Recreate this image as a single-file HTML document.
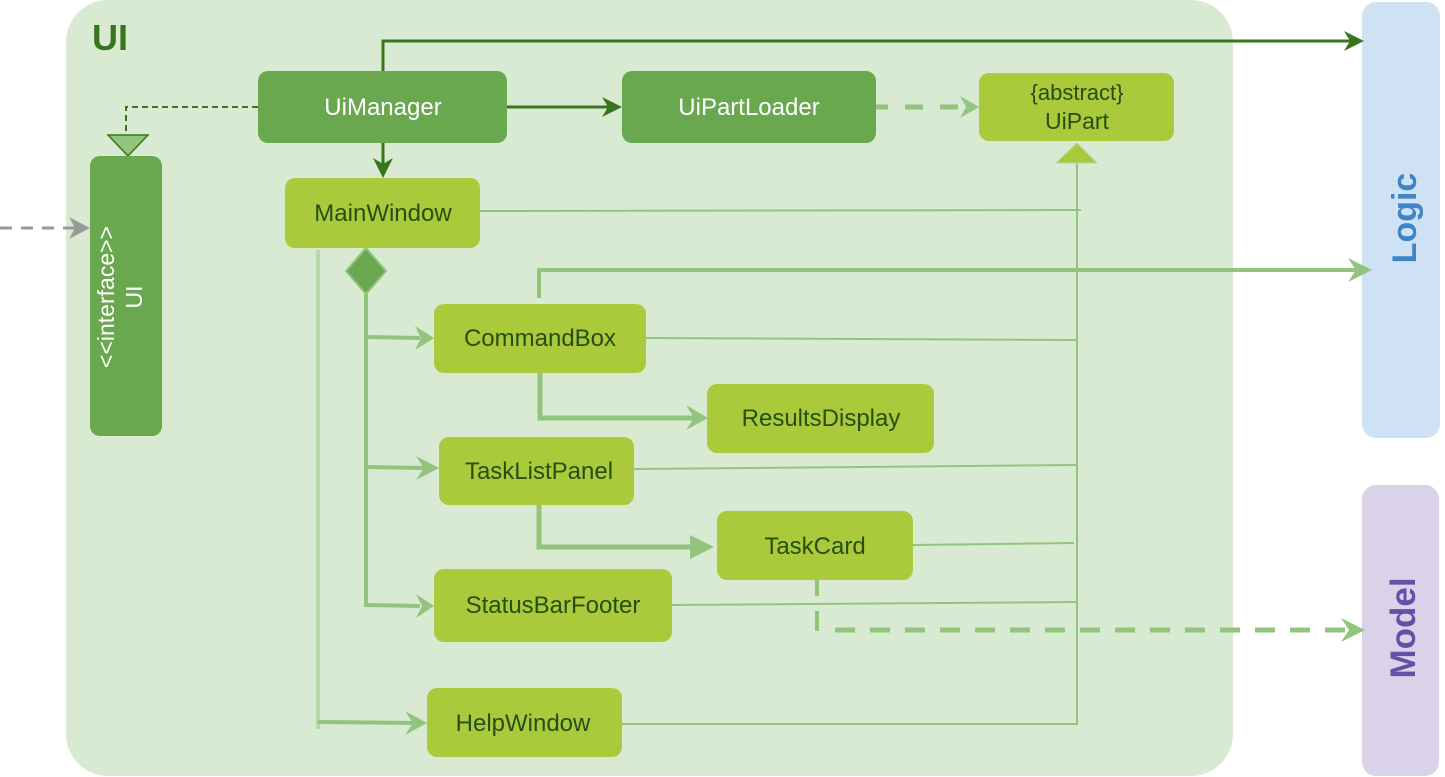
<!DOCTYPE html>
<html><head><meta charset="utf-8"><style>
html,body{margin:0;padding:0;background:#fff;}
svg{display:block;}
text{font-family:"Liberation Sans",Arial,sans-serif;}
</style></head><body>
<svg width="1445" height="777" viewBox="0 0 1445 777" xmlns="http://www.w3.org/2000/svg">
<rect x="66" y="0" width="1167" height="776" rx="42" fill="#d9ead3"/>
<text x="92" y="50" font-size="36" font-weight="bold" fill="#38761d">UI</text>
<rect x="1362" y="2" width="78" height="436" rx="14" fill="#cfe2f3"/>
<text transform="translate(1416,218) rotate(-90)" text-anchor="middle" font-size="34" font-weight="bold" fill="#3d85c6">Logic</text>
<rect x="1362" y="485" width="77" height="291" rx="14" fill="#d9d2e9"/>
<text transform="translate(1415,628) rotate(-90)" text-anchor="middle" font-size="35" font-weight="bold" fill="#674ea7">Model</text>

<g fill="none" stroke-linejoin="miter">
<polyline points="383,71 383,41 1355,41" stroke="#38761d" stroke-width="3"/>
<polyline points="507,107 612,107" stroke="#38761d" stroke-width="3"/>
<polyline points="383,143 383,170" stroke="#38761d" stroke-width="3"/>
<polyline points="258,107 126,107 126,136" stroke="#38761d" stroke-width="2" stroke-dasharray="6,4"/>
<line x1="870" y1="107" x2="970" y2="107" stroke="#93c47d" stroke-width="5" stroke-dasharray="18,17"/>
<line x1="0" y1="228" x2="80" y2="228" stroke="#999" stroke-width="3" stroke-dasharray="12,9"/>
<g stroke="#93c47d" stroke-width="2">
<line x1="480" y1="211" x2="1081" y2="210"/>
<line x1="646" y1="338" x2="1077" y2="340"/>
<line x1="634" y1="469" x2="1077" y2="465"/>
<line x1="913" y1="545" x2="1074" y2="543"/>
<line x1="672" y1="605" x2="1078" y2="602"/>
<line x1="622" y1="724" x2="1077" y2="724"/>
<line x1="1077" y1="162" x2="1077" y2="725"/>
</g>
<polyline points="366,294 366,605 420,606" stroke="#93c47d" stroke-width="4"/>
<line x1="366" y1="337" x2="420" y2="338" stroke="#93c47d" stroke-width="4"/>
<line x1="366" y1="467" x2="425" y2="468" stroke="#93c47d" stroke-width="4"/>
<polyline points="318,250 318,729" stroke="#b6d7a8" stroke-width="4"/>
<line x1="318" y1="722" x2="414" y2="723" stroke="#93c47d" stroke-width="4"/>
<polyline points="539,298 539,270 1360,270" stroke="#93c47d" stroke-width="4"/>
<polyline points="540,368 540,418 695,418" stroke="#93c47d" stroke-width="5"/>
<polyline points="539,501 539,547 697,547" stroke="#93c47d" stroke-width="5"/>
<line x1="817" y1="576" x2="817" y2="632" stroke="#93c47d" stroke-width="4" stroke-dasharray="20,15"/>
<line x1="835" y1="630" x2="1350" y2="630" stroke="#93c47d" stroke-width="5" stroke-dasharray="20,15"/>
</g>

<polygon points="1364,41 1344,31 1350,41 1344,51" fill="#38761d"/>
<polygon points="622,107 602,97 608,107 602,117" fill="#38761d"/>
<polygon points="383,178 373,158 383,164 393,158" fill="#38761d"/>
<polygon points="979,107 960,96 966,107 960,118" fill="#93c47d"/>
<polygon points="90,228 69,217 75,228 69,239" fill="#999"/>
<polygon points="1372,270 1348,258 1356,270 1348,282" fill="#93c47d"/>
<polygon points="434,338 415,326 421,338 415,350" fill="#93c47d"/>
<polygon points="439,468 416,456 424,468 416,480" fill="#93c47d"/>
<polygon points="434,606 416,594 422,606 416,618" fill="#93c47d"/>
<polygon points="427,723 405,711 413,723 405,735" fill="#93c47d"/>
<polygon points="708,418 686,405 694,418 686,430" fill="#93c47d"/>
<polygon points="714,547 690,535 690,559" fill="#93c47d"/>
<polygon points="1365,630 1341,618 1349,630 1341,642" fill="#93c47d"/>
<polygon points="108,135 148,135 128,156" fill="#93c47d" stroke="#38761d" stroke-width="1.5"/>
<polygon points="1077,143 1056,163 1097,163" fill="#a9c93a" stroke="#b6d7a8" stroke-width="1"/>
<polygon points="366,248 386,271 366,294 346,271" fill="#6aa84f" stroke="#93c47d" stroke-width="2"/>

<g font-size="24">
<rect x="258" y="71" width="249" height="72" rx="10" fill="#6aa84f"/>
<text x="383" y="115" text-anchor="middle" fill="#fff">UiManager</text>
<rect x="622" y="71" width="254" height="72" rx="10" fill="#6aa84f"/>
<text x="749" y="115" text-anchor="middle" fill="#fff">UiPartLoader</text>
<rect x="979" y="73" width="195" height="68" rx="10" fill="#aac93b"/>
<text x="1077" y="100" text-anchor="middle" fill="#274e13" font-size="22">{abstract}</text>
<text x="1077" y="129" text-anchor="middle" fill="#274e13" font-size="23">UiPart</text>
<rect x="90" y="156" width="72" height="280" rx="10" fill="#6aa84f"/>
<text transform="translate(114,297) rotate(-90)" text-anchor="middle" fill="#fff" font-size="23">&lt;&lt;interface&gt;&gt;</text>
<text transform="translate(142,297) rotate(-90)" text-anchor="middle" fill="#fff" font-size="23">UI</text>
<g fill="#274e13">
<rect x="285" y="178" width="195" height="70" rx="10" fill="#aac93b"/>
<text x="383" y="221" text-anchor="middle">MainWindow</text>
<rect x="434" y="304" width="212" height="69" rx="10" fill="#aac93b"/>
<text x="540" y="346" text-anchor="middle">CommandBox</text>
<rect x="707" y="384" width="227" height="69" rx="10" fill="#aac93b"/>
<text x="821" y="426" text-anchor="middle">ResultsDisplay</text>
<rect x="439" y="437" width="195" height="68" rx="10" fill="#aac93b"/>
<text x="539" y="479" text-anchor="middle">TaskListPanel</text>
<rect x="717" y="511" width="196" height="69" rx="10" fill="#aac93b"/>
<text x="815" y="554" text-anchor="middle">TaskCard</text>
<rect x="434" y="569" width="238" height="73" rx="10" fill="#aac93b"/>
<text x="553" y="613" text-anchor="middle">StatusBarFooter</text>
<rect x="427" y="688" width="195" height="69" rx="10" fill="#aac93b"/>
<text x="523" y="731" text-anchor="middle">HelpWindow</text>
</g>
</g>
</svg>
</body></html>
